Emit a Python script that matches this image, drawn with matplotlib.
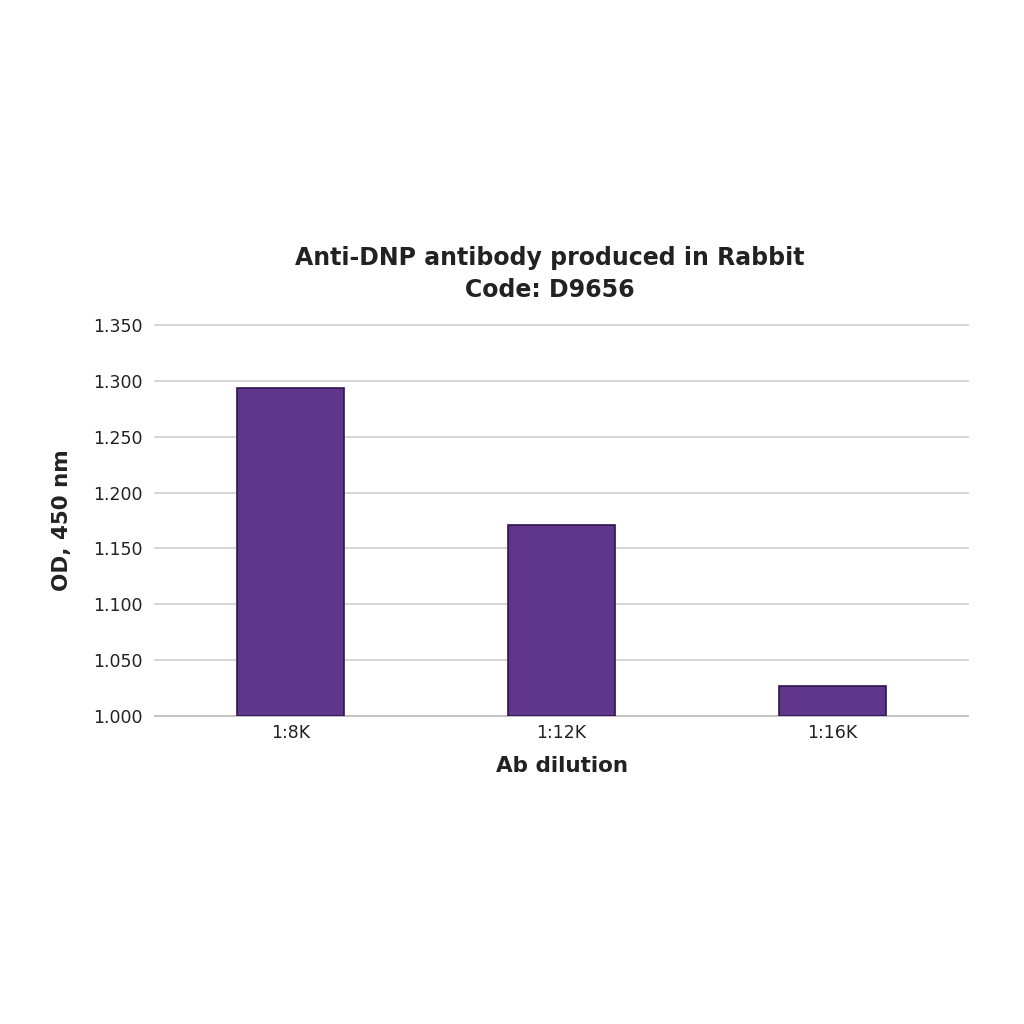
import matplotlib
matplotlib.use("Agg")
import matplotlib.pyplot as plt
from matplotlib.ticker import FormatStrFormatter

categories = ["1:8K", "1:12K", "1:16K"]
values = [1.294, 1.171, 1.027]
yticks = [1.000, 1.050, 1.100, 1.150, 1.200, 1.250, 1.300, 1.350]

plt.rcParams['font.family'] = ['DejaVu Sans']
fig = plt.figure(figsize=(10.24, 10.24), dpi=100)
ax = fig.add_axes([0.1514, 0.3008, 0.7939, 0.3818])
x = list(range(len(categories)))
ax.bar(x, [v - 1.0 for v in values], bottom=1.0, width=0.395,
       color="#5f3689", edgecolor="#2b1650", linewidth=1.2, zorder=3)
ax.set_xlim(-0.5, 2.5)
ax.set_ylim(1.0, 1.35)
ax.set_yticks(yticks)
ax.yaxis.set_major_formatter(FormatStrFormatter('%.3f'))
ax.set_xticks(x)
ax.set_xticklabels(categories)
ax.grid(axis='y', color="#cfcfcf", linewidth=1.2, zorder=0)
for gl in ax.get_ygridlines():
    gl.set_clip_on(False)
for s in ['top', 'right', 'left']:
    ax.spines[s].set_visible(False)
ax.spines['bottom'].set_color("#bfbfbf")
ax.spines['bottom'].set_linewidth(1.2)
ax.tick_params(axis='both', length=0, labelsize=12.5, colors="#222222", pad=9)
ax.tick_params(axis='x', pad=6)
ax.set_xlabel("Ab dilution", fontsize=15.5, fontweight='bold', color="#222222", labelpad=10)
ax.set_ylabel("OD, 450 nm", fontsize=15.5, fontweight='bold', color="#222222", labelpad=15)
fig.text(549.5 / 1024, 1 - 274 / 1024, "Anti-DNP antibody produced in Rabbit\nCode: D9656",
         fontsize=17, fontweight='bold', color="#222222", ha='center', va='center',
         linespacing=1.4)
fig.savefig("out.png", dpi=100, facecolor="white")
